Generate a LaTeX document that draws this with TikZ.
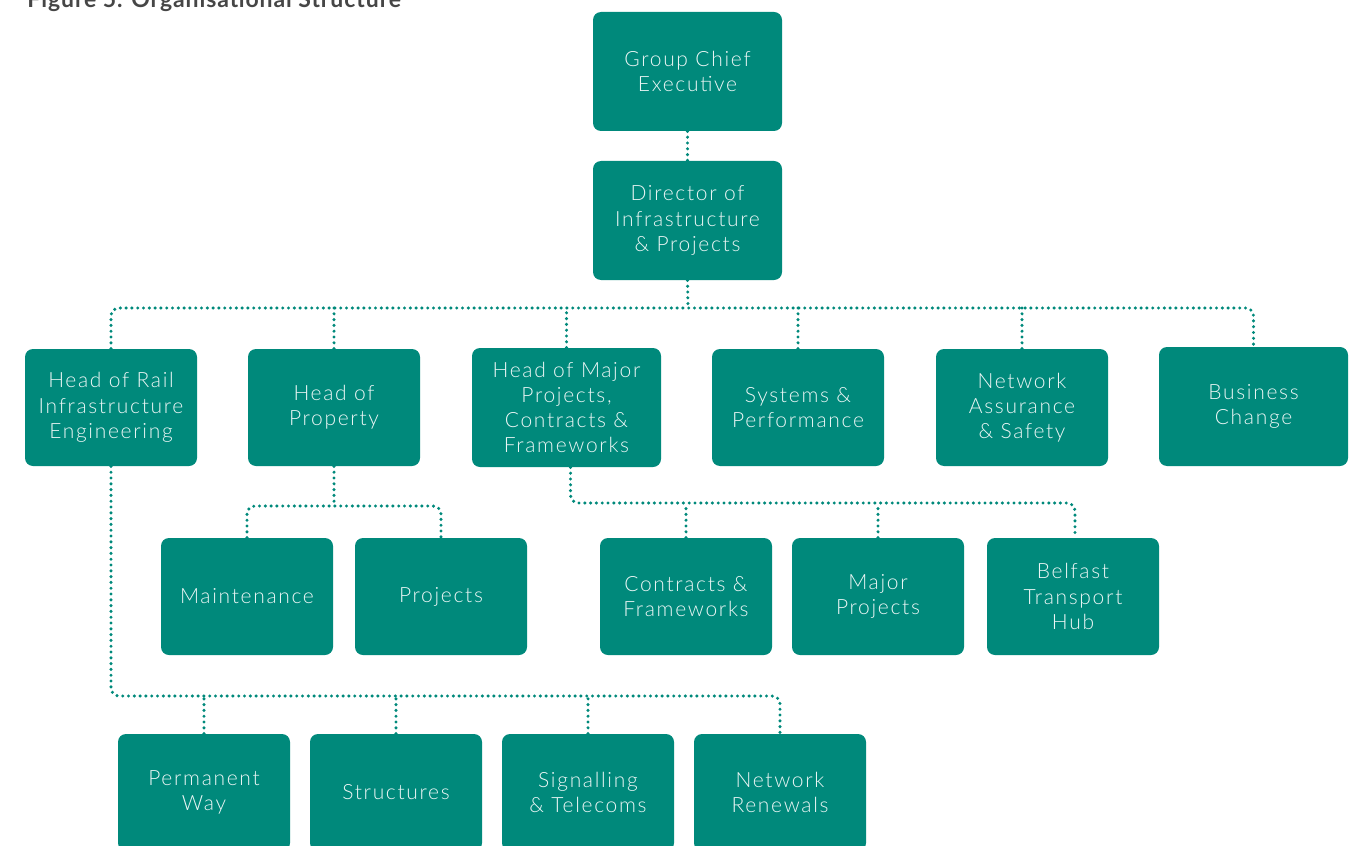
\documentclass[tikz,border=0pt]{standalone}
\usepackage{fontspec}
\setmainfont{Lato}[UprightFont=* Light, BoldFont=* Bold]
\usetikzlibrary{positioning}

\definecolor{tealbox}{RGB}{0,137,123}
\definecolor{titlegrey}{RGB}{70,70,70}

\tikzset{
    unit/.style={fill=tealbox, rounded corners=4pt, minimum width=86pt, minimum height=58.5pt,
        text=white!92!tealbox, align=center, inner sep=2pt,
        font=\fontsize{10.5}{12.6}\selectfont\addfontfeatures{LetterSpace=8}},
    wideunit/.style={unit, minimum width=94.5pt, minimum height=59.5pt},
    link/.style={draw=tealbox, line width=1.7pt, line cap=round,
        dash pattern=on 0pt off 2.9pt, rounded corners=4pt}
}

\begin{document}
\begin{tikzpicture}[x=0.5pt, y=-0.5pt]
    \useasboundingbox (0,0) rectangle (1363,845);

    % Title (cropped at the top edge, as in the source)
    \node[anchor=base west, inner sep=0pt, text=titlegrey,
        font=\bfseries\fontsize{11.5}{13}\selectfont\addfontfeatures{LetterSpace=4}]
        (title) at (27,8) {Figure 5. Organisational Structure};

    % Top of the tree
    \node[wideunit] (gce) at (687.5,71.5) {Group Chief\\Executive};
    \node[wideunit] (dir) at (687.5,220.5) {Director of\\Infrastructure\\\& Projects};

    % Heads
    \node[unit] (rail) at (111,407.5) {Head of Rail\\Infrastructure\\Engineering};
    \node[unit] (prop) at (334,407.5) {Head of\\Property};
    \node[wideunit] (major) at (566.5,407.5) {Head of Major\\Projects,\\Contracts \&\\Frameworks};
    \node[unit] (sys) at (798,407.5) {Systems \&\\Performance};
    \node[unit] (assur) at (1022,407.5) {Network\\Assurance\\\& Safety};
    \node[wideunit] (biz) at (1253.5,406.5) {Business\\Change};

    % Property teams
    \node[unit] (maint) at (247,596.5) {Maintenance};
    \node[unit] (proj) at (441,596.5) {Projects};

    % Major projects teams
    \node[unit] (contr) at (686,596.5) {Contracts \&\\Frameworks};
    \node[unit] (mproj) at (878,596.5) {Major\\Projects};
    \node[unit] (hub) at (1073,596.5) {Belfast\\Transport\\Hub};

    % Rail infrastructure teams
    \node[unit] (pway) at (204,792.5) {Permanent\\Way};
    \node[unit] (struct) at (396,792.5) {Structures};
    \node[unit] (signal) at (588,792.5) {Signalling\\\& Telecoms};
    \node[unit] (renew) at (780,792.5) {Network\\Renewals};

    % Bus lines
    \coordinate (busA) at (688,308);
    \coordinate (busB) at (336,506);
    \coordinate (busC) at (700,503);
    \coordinate (busD) at (400,696);

    \draw[link] (gce.south) -- (dir.north);
    \draw[link] (dir.south) -- (busA);
    \draw[link] (rail.north) |- (busA) -| (biz.north);
    \foreach \n in {prop,major,sys,assur}
        \draw[link] (\n.north) -- (\n.north |- busA);

    \draw[link] (prop.south) -- (prop.south |- busB);
    \draw[link] (maint.north) |- (busB) -| (proj.north);

    \draw[link] ([xshift=2pt]major.south) |- (busC) -| ([xshift=1pt]hub.north);
    \foreach \n in {contr,mproj}
        \draw[link] (\n.north) -- (\n.north |- busC);

    \draw[link] (rail.south) |- (busD) -| (renew.north);
    \foreach \n in {pway,struct,signal}
        \draw[link] (\n.north) -- (\n.north |- busD);

\end{tikzpicture}
\end{document}
